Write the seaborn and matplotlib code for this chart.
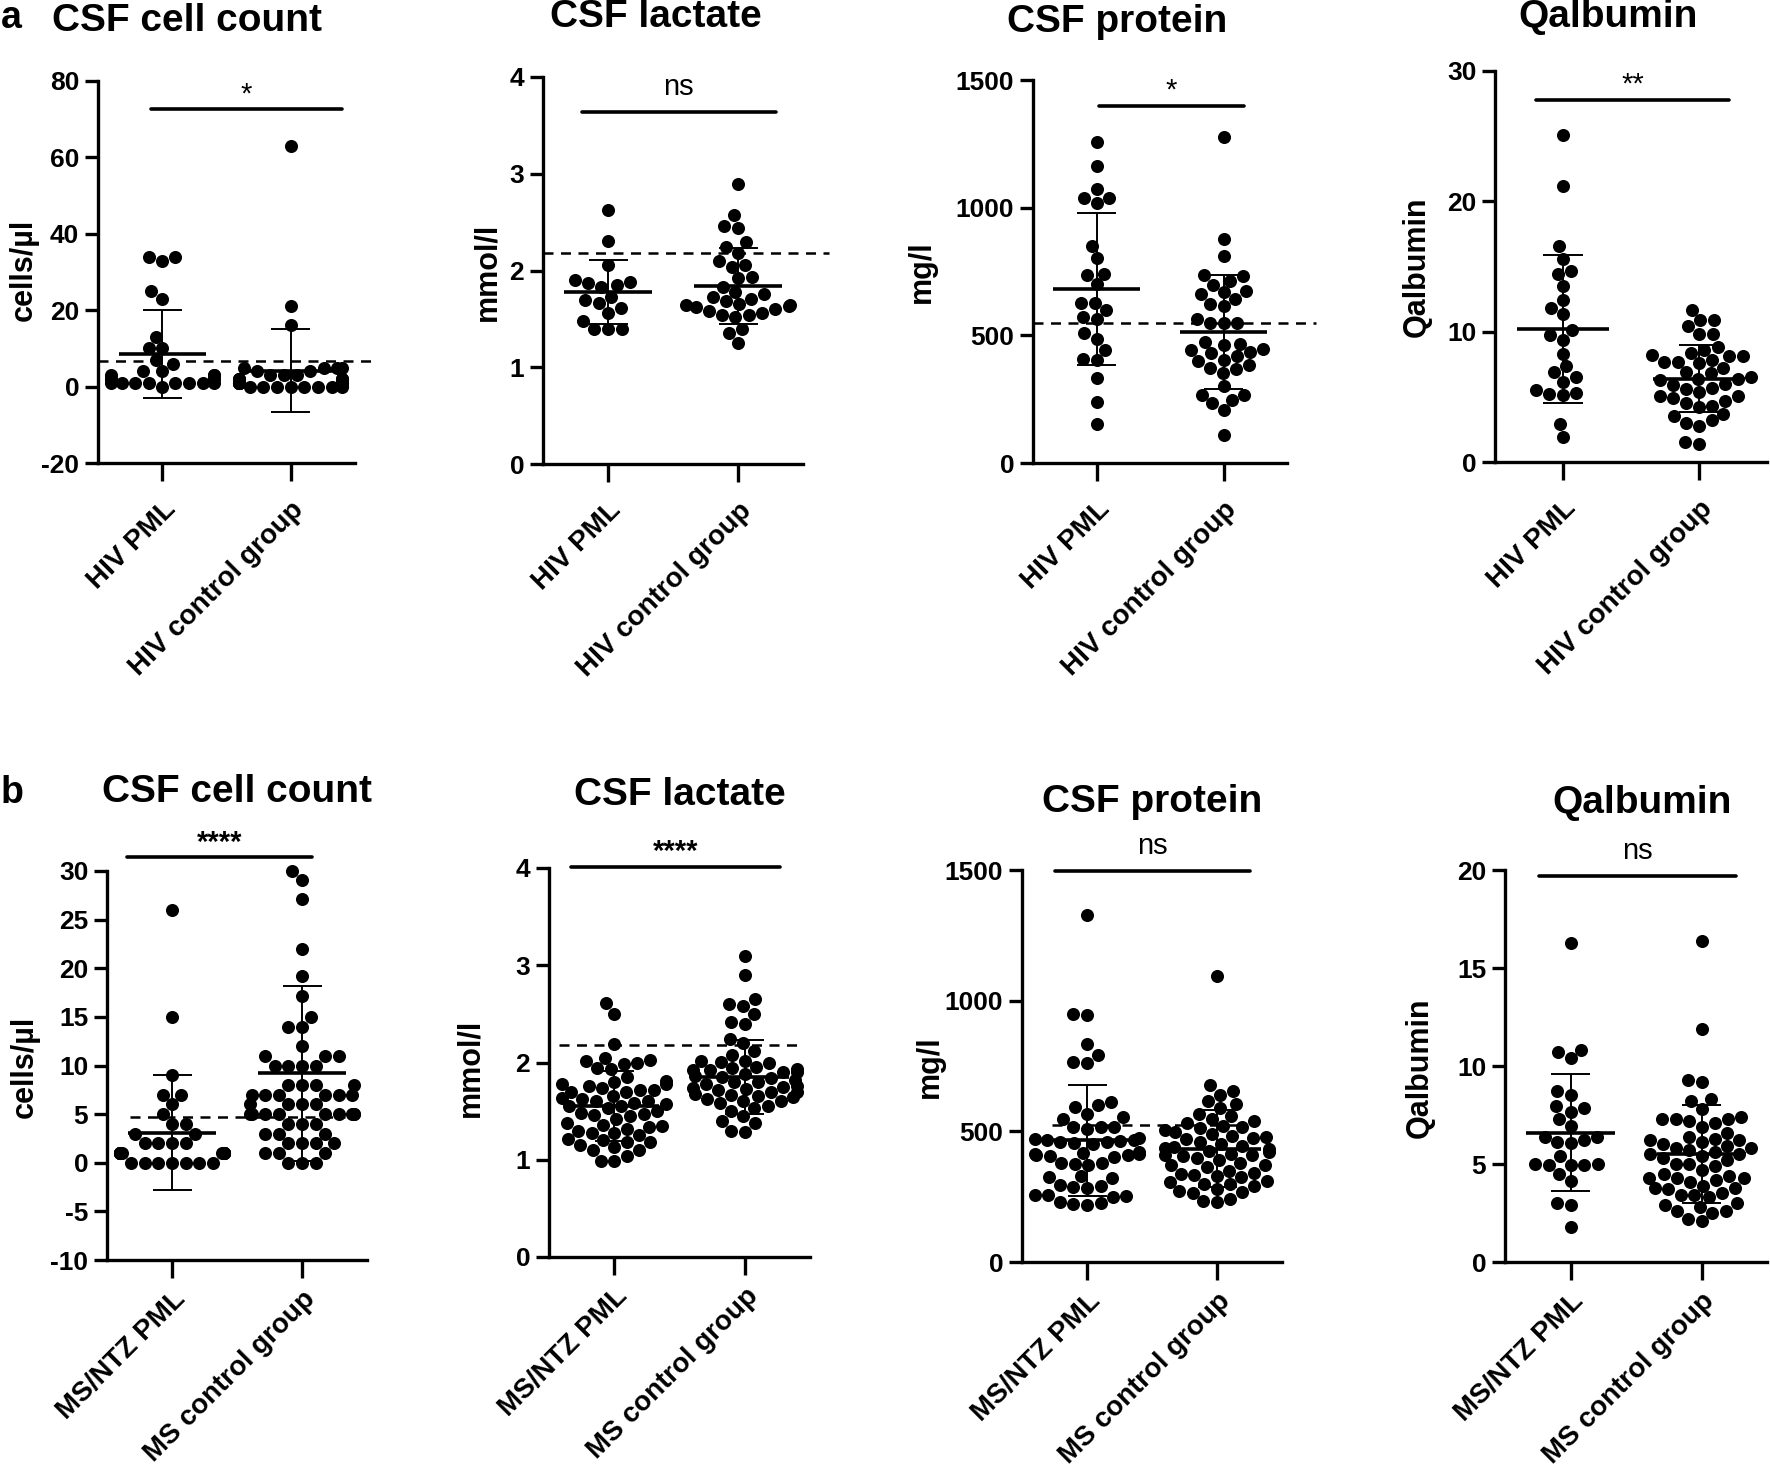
import warnings
import pandas as pd
import seaborn as sns
import matplotlib
matplotlib.use('Agg')
import matplotlib.pyplot as plt

warnings.filterwarnings('ignore')

# ---- groups ----
hiv_groups = ['HIV PML', 'HIV control group']
ms_groups = ['MS/NTZ PML', 'MS control group']
titles = ['CSF cell count', 'CSF lactate', 'CSF protein', 'Qalbumin']
ylabels = ['cells/\u00b5l', 'mmol/l', 'mg/l', 'Qalbumin']

# ---- panel a (HIV) ----
a_cells_pml = [34, 33, 34, 25, 23, 13, 10, 10, 7, 6, 4, 0, 1, 1, 1, 1, 1, 1, 1, 1, 2, 2, 2, 3, 3, 3, 4]
a_cells_ctrl = [63, 21, 16, 5, 5, 5, 5, 4, 4, 3, 3, 3, 2, 2, 2, 2, 2, 2, 1, 1, 1, 1, 1, 1,
                1, 1, 1, 1, 1, 1, 0, 0, 0, 0, 0, 0, 0, 0]
a_lact_pml = [2.63, 2.30, 2.06, 1.90, 1.88, 1.87, 1.85, 1.83, 1.73, 1.69, 1.66, 1.61, 1.56,
              1.48, 1.40, 1.40, 1.40]
a_lact_ctrl = [2.89, 2.57, 2.44, 2.46, 2.29, 2.24, 2.18, 2.10, 2.04, 2.06, 1.92, 1.93, 1.78,
               1.83, 1.76, 1.73, 1.71, 1.68, 1.64, 1.63, 1.64, 1.65, 1.56, 1.52, 1.54, 1.54,
               1.40, 1.35, 1.25, 1.60, 1.58, 1.62]
a_prot_pml = [1258, 1164, 1073, 1036, 1017, 1036, 849, 801, 742, 736, 700, 625, 628, 598, 572,
              563, 511, 487, 442, 409, 402, 331, 239, 154]
a_prot_ctrl = [1278, 879, 811, 738, 732, 713, 699, 668, 674, 660, 642, 615, 622, 563, 550, 550,
               550, 474, 461, 468, 448, 429, 435, 442, 418, 405, 400, 383, 367, 372, 353, 302,
               268, 268, 235, 246, 206, 108]
a_qalb_pml = [25.06, 21.18, 16.55, 15.6, 14.65, 14.4, 13.48, 12.4, 11.84, 11.38, 10.1, 9.72,
              9.33, 8.31, 7.34, 6.9, 6.5, 6.14, 5.55, 5.24, 5.11, 5.29, 2.89, 1.92]
a_qalb_ctrl = [11.7, 10.9, 10.9, 10.4, 9.8, 9.8, 8.8, 8.6, 8.4, 8.2, 8.1, 8.1, 7.8, 7.7, 7.7,
               7.6, 7.2, 6.9, 6.8, 6.5, 6.4, 6.4, 6.3, 6.0, 5.9, 5.7, 5.6, 5.4, 5.1, 5.1, 4.9,
               4.7, 4.5, 4.3, 4.2, 3.7, 3.5, 3.2, 3.0, 2.8, 1.5, 1.4]

# ---- panel b (MS) ----
b_cells_pml = [26, 15, 9, 7, 7, 6, 5, 4, 4, 3, 3, 2, 2, 2, 2, 1, 1, 1, 1, 1, 1, 1, 1, 1, 1,
               1, 1, 1, 1, 0, 0, 0, 0, 0, 0, 0]
b_cells_ctrl = [30, 29.1, 27.1, 22, 19.2, 17.1, 15, 14, 14, 12, 11, 11, 11, 10, 10, 10, 10, 8,
                8, 8, 8, 7, 7, 7, 7, 7, 7, 6, 6, 6, 6, 5, 5, 5, 5, 5, 5, 5, 5, 5, 4, 4, 4, 3,
                3, 3, 2, 2, 2, 2, 1, 1, 1, 0, 0, 0]
b_lact_pml = [2.61, 2.50, 2.19, 2.05, 2.03, 2.02, 2.00, 1.98, 1.94, 1.93, 1.85, 1.81, 1.80,
              1.78, 1.78, 1.76, 1.74, 1.72, 1.72, 1.70, 1.70, 1.66, 1.63, 1.62, 1.60, 1.60,
              1.58, 1.57, 1.55, 1.55, 1.53, 1.50, 1.48, 1.47, 1.46, 1.45, 1.42, 1.38, 1.36,
              1.35, 1.34, 1.32, 1.30, 1.28, 1.28, 1.25, 1.21, 1.20, 1.18, 1.18, 1.15, 1.13,
              1.10, 1.10, 1.04, 0.99, 0.99]
b_lact_ctrl = [3.10, 2.90, 2.65, 2.60, 2.58, 2.50, 2.42, 2.40, 2.24, 2.20, 2.12, 2.08, 2.02,
               2.02, 2.01, 2.00, 1.95, 1.94, 1.93, 1.92, 1.92, 1.90, 1.90, 1.88, 1.86, 1.85,
               1.84, 1.82, 1.80, 1.80, 1.78, 1.76, 1.75, 1.74, 1.73, 1.72, 1.70, 1.70, 1.68,
               1.67, 1.66, 1.65, 1.62, 1.60, 1.60, 1.58, 1.55, 1.53, 1.50, 1.45, 1.40, 1.38,
               1.30, 1.29]
b_prot_pml = [1328, 950, 945, 836, 791, 766, 763, 613, 600, 594, 568, 555, 549, 517, 517, 517,
              510, 475, 472, 468, 466, 462, 460, 458, 455, 452, 420, 418, 415, 412, 410, 408,
              405, 402, 380, 377, 375, 372, 330, 325, 320, 295, 290, 288, 285, 258, 255, 252,
              250, 228, 225, 222, 220]
b_prot_ctrl = [1095, 677, 654, 640, 615, 606, 590, 568, 560, 549, 540, 530, 520, 517, 512, 505,
               498, 490, 482, 479, 475, 470, 460, 452, 445, 440, 438, 432, 425, 420, 415, 410,
               408, 405, 398, 390, 380, 372, 370, 365, 350, 340, 335, 332, 330, 325, 310, 305,
               300, 298, 290, 280, 270, 268, 265, 240, 232, 228]
b_qalb_pml = [16.3, 10.8, 10.7, 10.4, 8.7, 8.5, 7.95, 7.85, 7.65, 7.3, 6.95, 6.4, 6.4, 6.25,
              6.1, 6.05, 5.4, 5.0, 5.0, 4.95, 4.95, 4.95, 4.5, 4.15, 3.0, 2.9, 1.8]
b_qalb_ctrl = [16.4, 11.9, 9.3, 9.2, 8.3, 8.2, 7.8, 7.4, 7.3, 7.3, 7.3, 7.2, 7.1, 6.9, 6.6,
               6.4, 6.3, 6.2, 6.2, 6.1, 6.0, 5.9, 5.8, 5.8, 5.7, 5.6, 5.5, 5.5, 5.4, 5.3, 5.2,
               5.0, 5.0, 4.9, 4.7, 4.5, 4.4, 4.3, 4.3, 4.3, 4.2, 4.1, 3.9, 3.8, 3.8, 3.7, 3.5,
               3.4, 3.4, 3.3, 3.0, 2.9, 2.8, 2.6, 2.6, 2.5, 2.2, 2.1]

# mean and SD as drawn (PML, control)
a_means = [[8.5, 4.2], [1.78, 1.84], [682, 513], [10.2, 6.4]]
a_sds = [[11.5, 10.8], [0.33, 0.39], [298, 223], [5.7, 2.6]]
b_means = [[3.1, 9.2], [1.55, 1.85], [466, 434], [6.6, 5.5]]
b_sds = [[5.9, 9.0], [0.36, 0.38], [213, 147], [3.0, 2.5]]

# dashed reference lines
a_refs = [6.8, 2.18, 549, None]
b_refs = [4.7, 2.18, 526, None]

# significance
a_sig = ['*', 'ns', '*', '**']
b_sig = ['****', '****', 'ns', 'ns']
a_sig_y = [72.6, 3.64, 1399, 27.8]
b_sig_y = [31.4, 4.01, 1497, 19.7]

a_yticks = [[-20, 0, 20, 40, 60, 80], [0, 1, 2, 3, 4], [0, 500, 1000, 1500], [0, 10, 20, 30]]
b_yticks = [[-10, -5, 0, 5, 10, 15, 20, 25, 30], [0, 1, 2, 3, 4], [0, 500, 1000, 1500],
            [0, 5, 10, 15, 20]]

# ---- layout (pixels) ----
W, H = 1770, 1474
a_boxes = [(98, 81, 355, 463), (543, 77, 803, 464), (1033, 80, 1287, 463), (1495, 71, 1767, 462)]
b_boxes = [(107, 871, 367, 1260), (549, 868, 810, 1257), (1022, 870, 1282, 1262),
           (1505, 870, 1767, 1262)]
a_title_xy = [(187, 21), (656, 17), (1117, 22), (1608, 17)]
b_title_xy = [(237, 792), (680, 795), (1152, 802), (1642, 803)]
a_ylab_xy = [(24, 270), (487, 272), (922, 272), (1417, 267)]
b_ylab_xy = [(25, 1067), (470, 1068), (930, 1067), (1420, 1068)]
a_bar_x = [(-0.09, 1.40), (-0.2, 1.29), (0.02, 1.16), (-0.2, 1.22)]
b_bar_x = [(-0.35, 1.08), (-0.33, 1.27), (-0.25, 1.25), (-0.24, 1.26)]
a_ref_x = [(-0.5, 1.68), (-0.5, 1.70), (-0.5, 1.73), None]
b_ref_x = [(-0.32, 1.33), (-0.42, 1.44), (-0.27, 1.23), None]

sns.set_style('ticks')
plt.rcParams['font.family'] = ['Liberation Sans', 'DejaVu Sans']
plt.rcParams['font.weight'] = 'bold'
plt.rcParams['axes.linewidth'] = 2.4
plt.rcParams['axes.unicode_minus'] = False
for key in ['text.color', 'axes.labelcolor', 'xtick.color', 'ytick.color', 'axes.edgecolor']:
    plt.rcParams[key] = 'black'

fig = plt.figure(figsize=(W / 100, H / 100), dpi=100)


def px_axes(box):
    x0, y0, x1, y1 = box
    return fig.add_axes([x0 / W, 1 - y1 / H, (x1 - x0) / W, (y1 - y0) / H])


def draw_panel(box, groups, pml, ctrl, means, sds, yticks, ref, ref_x, sig, sig_y, bar_x,
               lab_pad):
    ax = px_axes(box)
    df = pd.DataFrame({'group': [groups[0]] * len(pml) + [groups[1]] * len(ctrl),
                       'value': pml + ctrl})
    sns.swarmplot(data=df, x='group', y='value', order=groups, color='black', size=9.4,
                  linewidth=0, ax=ax, zorder=2)
    for c in ax.collections:
        c.set_clip_on(False)
    for i in range(2):
        m, s = means[i], sds[i]
        ax.hlines(m, i - 0.34, i + 0.34, color='black', lw=2.6, zorder=4)
        ax.vlines(i, m - s, m + s, color='black', lw=1.4, zorder=4)
        ax.hlines([m - s, m + s], i - 0.15, i + 0.15, color='black', lw=1.4, zorder=4)
    if ref is not None:
        ax.plot(ref_x, [ref, ref], ls=(0, (4, 3)), color='black', lw=1.8, clip_on=False,
                zorder=1)
    ax.plot(bar_x, [sig_y, sig_y], color='black', lw=2.6, clip_on=False)
    off = 12 if sig == 'ns' else 5
    ax.annotate(sig, xy=(sum(bar_x) / 2, sig_y), xytext=(0, off), textcoords='offset points',
                ha='center', va='baseline', fontsize=21,
                fontweight='bold' if sig == '****' else 'normal', annotation_clip=False)
    ax.set_xlim(-0.5, 1.5)
    ax.set_ylim(yticks[0], yticks[-1])
    ax.set_yticks(yticks)
    ax.set_xticks([0, 1])
    ax.set_xticklabels(groups, rotation=45, ha='right', va='top', rotation_mode='anchor',
                       fontsize=20, fontweight='bold')
    ax.set_xlabel('')
    ax.set_ylabel('')
    ax.tick_params(axis='x', length=13, width=2.4, pad=lab_pad)
    ax.tick_params(axis='y', length=9.5, width=2.4, pad=4, labelsize=19)
    sns.despine(ax=ax)
    return ax


a_data = [(a_cells_pml, a_cells_ctrl), (a_lact_pml, a_lact_ctrl), (a_prot_pml, a_prot_ctrl),
          (a_qalb_pml, a_qalb_ctrl)]
b_data = [(b_cells_pml, b_cells_ctrl), (b_lact_pml, b_lact_ctrl), (b_prot_pml, b_prot_ctrl),
          (b_qalb_pml, b_qalb_ctrl)]

for k in range(4):
    draw_panel(a_boxes[k], hiv_groups, a_data[k][0], a_data[k][1], a_means[k], a_sds[k],
               a_yticks[k], a_refs[k], a_ref_x[k], a_sig[k], a_sig_y[k], a_bar_x[k], 11)
    draw_panel(b_boxes[k], ms_groups, b_data[k][0], b_data[k][1], b_means[k], b_sds[k],
               b_yticks[k], b_refs[k], b_ref_x[k], b_sig[k], b_sig_y[k], b_bar_x[k], 6)
    for (tx, ty) in (a_title_xy[k], b_title_xy[k]):
        fig.text(tx / W, 1 - ty / H, titles[k], ha='center', va='center', fontsize=28,
                 fontweight='bold')
    for (lx, ly) in (a_ylab_xy[k], b_ylab_xy[k]):
        fig.text(lx / W, 1 - ly / H, ylabels[k], ha='center', va='center', rotation=90,
                 fontsize=22, fontweight='bold')

fig.text(11 / W, 1 - 18 / H, 'a', ha='center', va='center', fontsize=27, fontweight='bold')
fig.text(12 / W, 1 - 793 / H, 'b', ha='center', va='center', fontsize=27, fontweight='bold')

fig.savefig('out.png', dpi=100)
